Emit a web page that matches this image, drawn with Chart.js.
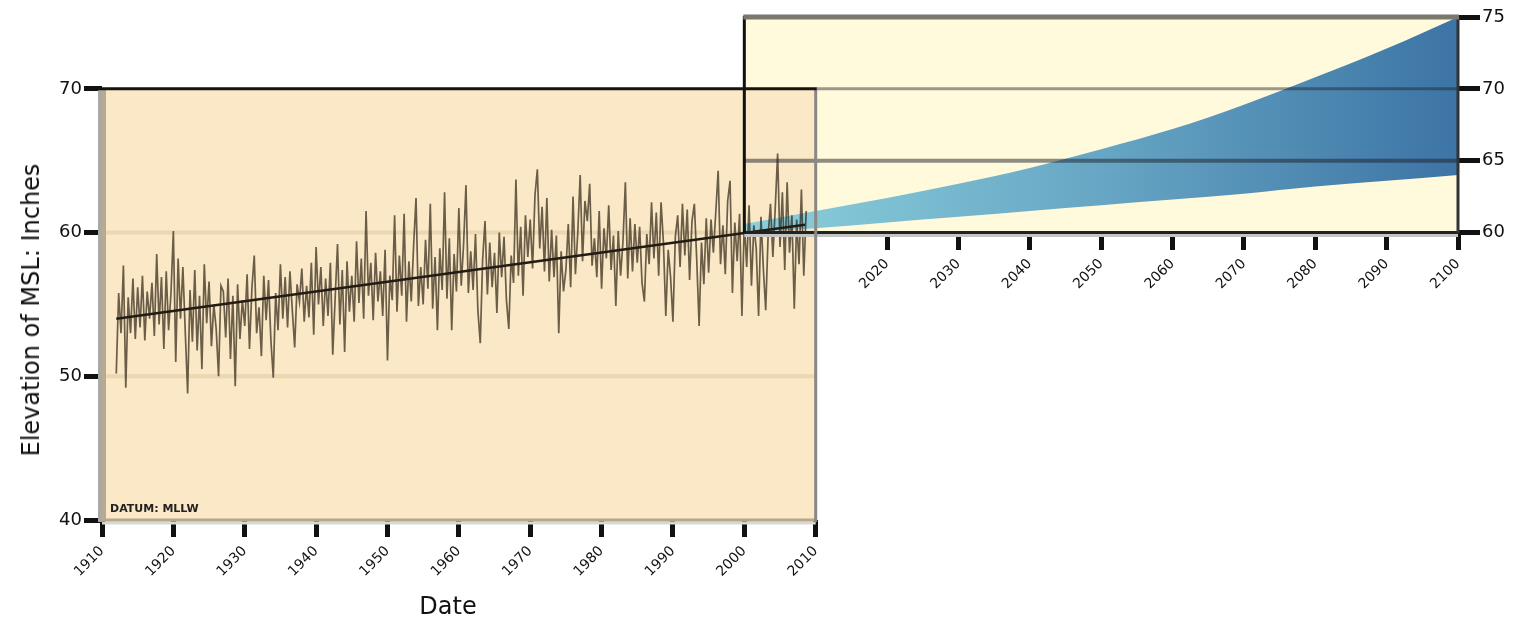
<!DOCTYPE html>
<html>
<head>
<meta charset="utf-8">
<title>Sea level</title>
<script src="https://cdn.jsdelivr.net/npm/chart.js@4.4.1/dist/chart.umd.min.js"></script>
<style>
  body { margin: 0; background: #fff; }
  #wrap { position: relative; width: 1519px; height: 625px; font-family: "DejaVu Sans", sans-serif; color: #111; }
  #chart { position: absolute; left: 0; top: 0; }
  #ytitle { position: absolute; left: 31px; top: 310px; transform: translate(-50%, -50%) rotate(-90deg); font-size: 24px; white-space: nowrap; }
  #xtitle { position: absolute; left: 448px; top: 606px; transform: translate(-50%, -50%); font-size: 24px; }
  #datum { position: absolute; left: 110px; top: 502px; font-size: 11px; font-weight: bold; color: #222; }
</style>
</head>
<body>
<div id="wrap">
  <canvas id="chart" width="1519" height="625"></canvas>
  <div id="ytitle">Elevation of MSL: Inches</div>
  <div id="xtitle">Date</div>
  <div id="datum">DATUM: MLLW</div>
</div>
<script>
// tick labels
const leftYears = [1910, 1920, 1930, 1940, 1950, 1960, 1970, 1980, 1990, 2000, 2010];
const rightYears = [2020, 2030, 2040, 2050, 2060, 2070, 2080, 2090, 2100];
const leftLevels = [40, 50, 60, 70];
const rightLevels = [60, 65, 70, 75];

// observed mean sea level, 3 readings a year from 1912
const tideStart = 1912;
const perYear = 3;
const tideValues = [
  50.2, 55.8, 53.0,  57.7, 49.2, 55.5,  53.0, 56.8, 52.6,  56.2, 53.4, 57.0,
  52.5, 55.9, 54.0,  56.5, 52.8, 58.5,  53.6, 56.9, 51.9,  57.3, 53.2, 55.8,
  60.1, 51.0, 58.2,  54.0, 57.6, 53.1,  48.8, 56.0, 52.4,  57.4, 51.8, 55.6,
  50.5, 57.8, 53.7,  56.6, 52.1, 55.0,  53.3, 50.0, 56.3,  55.9, 52.7, 56.8,
  51.2, 55.6, 49.3,  56.4, 52.6, 55.3,  53.5, 57.1, 51.9,  56.1, 58.4, 53.0,
  54.8, 51.4, 57.0,  53.9, 56.7, 52.5,  49.9, 55.8, 53.2,  57.8, 54.0, 56.9,
  53.4, 57.3, 54.6,  52.0, 56.4, 55.2,  57.5, 53.8, 56.3,  54.1, 57.9, 52.9,
  59.0, 55.0, 57.6,  53.5, 56.8, 54.2,  57.9, 51.5, 55.4,  59.2, 53.6, 57.4,
  51.7, 58.0, 54.5,  57.0, 53.8, 59.4,  55.1, 58.2, 54.0,  61.5, 55.6, 57.9,
  53.9, 58.6, 55.2,  57.3, 54.2, 58.8,  51.1, 57.0, 55.3,  61.2, 54.5, 58.4,
  55.6, 61.3, 53.8,  58.0, 55.2, 59.1,  62.4, 54.9, 57.6,  55.0, 59.5, 56.1,
  62.0, 54.7, 58.3,  53.2, 58.9, 56.0,  62.8, 55.4, 59.6,  53.2, 58.5, 55.9,
  61.7, 56.3, 59.2,  63.3, 55.8, 58.7,  56.0, 59.9, 54.6,  52.3, 58.1, 60.8,
  55.7, 59.3, 56.2,  58.6, 54.4, 60.0,  56.9, 59.7, 55.3,  53.3, 58.4, 56.5,
  63.7, 57.0, 60.4,  55.6, 61.2, 58.3,  60.9, 57.5, 62.6,  64.4, 58.9, 61.8,
  57.3, 62.4, 56.6,  60.2, 56.9, 59.8,  53.0, 58.7, 55.9,  57.4, 60.6, 56.2,
  62.5, 57.1, 60.0,  64.0, 58.0, 62.2,  60.8, 63.4, 57.7,  59.6, 56.9, 61.5,
  56.1, 60.3, 58.2,  61.9, 57.4, 59.8,  54.9, 60.1, 57.0,  59.4, 63.5, 56.8,
  61.0, 57.3, 60.6,  57.9, 60.4, 56.5,  55.2, 59.9, 57.8,  62.1, 58.2, 61.4,
  57.0, 62.1, 59.3,  54.2, 58.8, 56.9,  53.8, 59.7, 61.2,  57.6, 62.0, 58.4,
  61.6, 56.7, 60.8,  62.0, 58.1, 53.5,  59.3, 56.4, 61.0,  57.2, 60.9, 58.6,
  61.4, 64.3, 57.8,  60.5, 57.1, 62.2,  63.6, 55.8, 60.7,  58.0, 61.3, 54.2,
  60.8, 57.6, 61.9,  56.3, 60.5, 58.9,  54.2, 61.1, 57.5,  54.6, 59.8, 62.0,
  58.3, 61.7, 65.5,  59.0, 62.8, 57.4,  63.5, 58.6, 61.2,  54.7, 60.9, 57.8,
  63.0, 57.0, 61.5
];

// linear trend
const trendYears = [1912, 2008.5];
const trendValues = [54.0, 60.55];

// projection band
const projYears = [2000, 2010, 2020, 2030, 2040, 2050, 2060, 2070, 2080, 2090, 2100];
const projLow = [60.0, 60.3, 60.7, 61.1, 61.5, 61.9, 62.3, 62.7, 63.2, 63.6, 64.0];
const projHigh = [60.6, 61.5, 62.4, 63.4, 64.5, 65.8, 67.2, 68.9, 70.8, 72.8, 75.0];

const tidePoints = tideValues.map((v, i) => ({ x: tideStart + i / perYear, y: v }));
const pairs = (xs, ys) => xs.map((x, i) => ({ x: x, y: ys[i] }));

const setTicks = list => scale => { scale.ticks = list.map(v => ({ value: v })); };
const noPad = size => scale => {
  scale.paddingTop = 0; scale.paddingBottom = 0; scale.paddingLeft = 0; scale.paddingRight = 0;
  if (scale.isHorizontal()) { if (size) scale.height = size; } else { scale.width = size; }
};

function bandFill(ctx) {
  const chart = ctx.chart;
  if (!chart.chartArea) return 'rgba(80,150,190,0.9)';
  const x = chart.scales.x;
  const g = chart.ctx.createLinearGradient(x.getPixelForValue(2000), 0, x.getPixelForValue(2100), 0);
  g.addColorStop(0, '#8cd0dc');
  g.addColorStop(0.5, '#67a6c4');
  g.addColorStop(1, '#3c74a5');
  return g;
}

function line(c, x1, y1, x2, y2, color, w) {
  c.beginPath();
  c.strokeStyle = color;
  c.lineWidth = w;
  c.moveTo(x1, y1);
  c.lineTo(x2, y2);
  c.stroke();
}

const panels = {
  id: 'panels',
  beforeDatasetsDraw(chart) {
    const c = chart.ctx, x = chart.scales.x, y = chart.scales.y;
    const X = v => x.getPixelForValue(v), Y = v => y.getPixelForValue(v);
    c.save();
    c.fillStyle = '#fffadc';
    c.fillRect(X(2000), Y(75), X(2100) - X(2000), Y(60) - Y(75));
    c.fillStyle = '#fae8c6';
    c.fillRect(X(1910), Y(70), X(2010) - X(1910), Y(40) - Y(70));
    [50, 60].forEach(v => line(c, X(1910), Y(v), X(2010), Y(v), 'rgba(190,165,120,0.25)', 4));
    c.restore();
  },
  afterDatasetsDraw(chart) {
    const c = chart.ctx, x = chart.scales.x, y = chart.scales.y;
    const X = v => x.getPixelForValue(v), Y = v => y.getPixelForValue(v);
    c.save();
    // projection panel
    line(c, X(2000), Y(65), X(2100), Y(65), 'rgba(30,30,40,0.5)', 4);
    line(c, X(2010), Y(70), X(2100), Y(70), 'rgba(30,30,40,0.45)', 3);
    line(c, X(2000), Y(60) + 3, X(2100), Y(60) + 3, '#c4c4c4', 3);
    line(c, X(2000), Y(60), X(2100) + 1, Y(60), '#222', 3);
    line(c, X(2000), Y(75) - 1, X(2000), Y(60), '#111', 3);
    line(c, X(2100), Y(75), X(2100), Y(60), '#333', 3);
    line(c, X(2000) - 1, Y(75), X(2100) + 1, Y(75), '#7a776c', 5);
    // observed panel
    line(c, X(1910), Y(40) + 3, X(2010), Y(40) + 3, '#d8d8d8', 3);
    line(c, X(1910), Y(40), X(2010), Y(40), '#b6a888', 3);
    line(c, X(2010), Y(70), X(2010), Y(40) + 2, '#8a8884', 3);
    line(c, X(1910) - 2, Y(70), X(1910) - 2, Y(40) + 2, '#a9a9a7', 4);
    line(c, X(1910) + 2, Y(70), X(1910) + 2, Y(40), '#b7aa8e', 4);
    line(c, X(1910) - 4, Y(70), X(2010) + 1, Y(70), '#161412', 3);
    c.restore();
  }
};

const tickFont = { family: 'DejaVu Sans', size: 14 };
const levelFont = { family: 'DejaVu Sans', size: 18 };

new Chart(document.getElementById('chart'), {
  type: 'line',
  data: {
    datasets: [
      { data: pairs(projYears, projLow), borderWidth: 0, pointRadius: 0, fill: false, cubicInterpolationMode: 'monotone', order: 2 },
      { data: pairs(projYears, projHigh), borderWidth: 0, pointRadius: 0, fill: '-1', backgroundColor: bandFill, cubicInterpolationMode: 'monotone', order: 2 },
      { data: tidePoints, borderColor: 'rgba(38,28,12,0.68)', borderWidth: 1.7, pointRadius: 0, fill: false, order: 1 },
      { data: pairs(trendYears, trendValues), borderColor: '#221c14', borderWidth: 2.5, pointRadius: 0, fill: false, order: 0 }
    ]
  },
  options: {
    responsive: false,
    animation: false,
    events: [],
    layout: { padding: { top: 17, left: 0, right: 0, bottom: 0 } },
    plugins: { legend: { display: false }, tooltip: { enabled: false } },
    scales: {
      x: {
        type: 'linear', min: 1910, max: 2100, position: 'bottom',
        afterBuildTicks: setTicks(leftYears),
        afterFit: noPad(105),
        border: { display: false },
        grid: { drawOnChartArea: false, tickLength: 17, tickWidth: 5, tickColor: '#111' },
        ticks: { autoSkip: false, minRotation: 45, maxRotation: 45, padding: 6, color: '#111', font: tickFont, callback: v => String(v) }
      },
      x2: {
        type: 'linear', min: 1910, max: 2100, position: { y: 60 },
        afterBuildTicks: setTicks(rightYears),
        afterFit: noPad(0),
        border: { display: false },
        grid: { drawOnChartArea: false, tickLength: 17, tickWidth: 5, tickColor: '#111' },
        ticks: { autoSkip: false, minRotation: 45, maxRotation: 45, padding: 6, color: '#111', font: tickFont, callback: v => String(v) }
      },
      y: {
        type: 'linear', min: 40, max: 75, position: 'left',
        afterBuildTicks: setTicks(leftLevels),
        afterFit: noPad(102),
        border: { display: false },
        grid: { drawOnChartArea: false, tickLength: 18, tickWidth: 5, tickColor: '#111' },
        ticks: { padding: 2, color: '#111', font: levelFont, callback: v => String(v) }
      },
      y2: {
        type: 'linear', min: 40, max: 75, position: 'right',
        afterBuildTicks: setTicks(rightLevels),
        afterFit: noPad(61),
        border: { display: false },
        grid: { drawOnChartArea: false, tickLength: 22, tickWidth: 5, tickColor: '#111' },
        ticks: { padding: 2, color: '#111', font: levelFont, callback: v => String(v) }
      }
    }
  },
  plugins: [panels]
});
</script>
</body>
</html>
